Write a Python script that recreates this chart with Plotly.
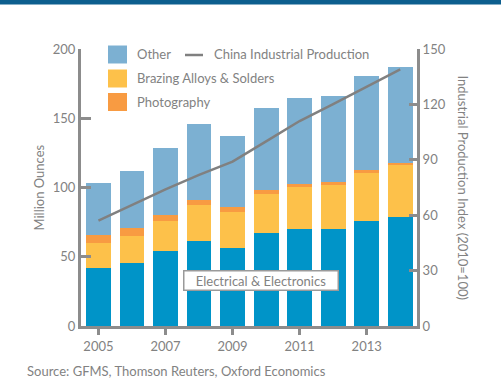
import plotly.graph_objects as go

years = [2005, 2006, 2007, 2008, 2009, 2010, 2011, 2012, 2013, 2014]
electrical = [42.0, 45.7, 54.4, 61.4, 56.5, 67.1, 70.3, 70.3, 76.0, 78.9]
brazing = [18.2, 19.5, 21.6, 26.2, 26.0, 28.2, 30.3, 31.7, 34.7, 37.6]
photography = [5.8, 5.3, 4.1, 3.4, 3.2, 2.9, 1.9, 2.0, 1.9, 1.4]
other = [37.0, 41.4, 48.4, 54.8, 51.5, 59.2, 62.1, 62.0, 67.9, 68.9]
china_ip = [57.0, 65.5, 74.0, 81.8, 89.0, 100.0, 111.0, 120.2, 129.4, 139.0]

left_ticks = [0, 50, 100, 150, 200]
right_ticks = [0, 30, 60, 90, 120, 150]
x_ticks = [2005, 2007, 2009, 2011, 2013]

C_ELEC = "#0094c8"
C_BRAZ = "#fdc14a"
C_PHOTO = "#f89b42"
C_OTHER = "#7cb0d2"
C_LINE = "#808080"
C_AXIS = "#8c8c8c"
C_TEXT = "#828282"
FONT = "Lato"

fig = go.Figure()
for name, vals, col in [("Electrical & Electronics", electrical, C_ELEC),
                        ("Brazing Alloys & Solders", brazing, C_BRAZ),
                        ("Photography", photography, C_PHOTO),
                        ("Other", other, C_OTHER)]:
    fig.add_trace(go.Bar(x=years, y=vals, name=name, marker=dict(color=col, line=dict(width=0)),
                         width=0.74, showlegend=False))

fig.add_trace(go.Scatter(x=years, y=china_ip, name="China Industrial Production", mode="lines",
                         line=dict(color=C_LINE, width=2.5), yaxis="y2", showlegend=False))

W, H = 501, 387
ml, mr, mt, mb = 81, 84, 49, 61
pw, ph = W - ml - mr, H - mt - mb

def px(x):
    return (x - ml) / pw

def py(y):
    return (H - mb - y) / ph

shapes = []
annotations = []
# top banner line
shapes.append(dict(type="rect", xref="paper", yref="paper", x0=px(0), x1=px(W), y0=py(4.5), y1=py(0),
                   fillcolor="#0d5f8e", line=dict(width=0), layer="above"))

# manual legend
legend_items = [("Other", C_OTHER, 54.5), ("Brazing Alloys & Solders", C_BRAZ, 78.5), ("Photography", C_PHOTO, 102)]
for label, col, yc in legend_items:
    shapes.append(dict(type="rect", xref="paper", yref="paper", x0=px(108), x1=px(127),
                       y0=py(yc + 9), y1=py(yc - 9), fillcolor=col, line=dict(width=0), layer="above"))
    annotations.append(dict(text=label, xref="paper", yref="paper", x=px(135), y=py(yc),
                            xanchor="left", yanchor="middle", showarrow=False,
                            font=dict(family=FONT, size=13, color=C_TEXT)))
shapes.append(dict(type="line", xref="paper", yref="paper", x0=px(185), x1=px(203), y0=py(55), y1=py(55),
                   line=dict(color=C_LINE, width=2.5), layer="above"))
annotations.append(dict(text="China Industrial Production", xref="paper", yref="paper", x=px(212), y=py(54.5),
                        xanchor="left", yanchor="middle", showarrow=False,
                        font=dict(family=FONT, size=13, color=C_TEXT)))

# axis titles
annotations.append(dict(text="Million Ounces", xref="paper", yref="paper", x=px(38), y=0.5, textangle=-90,
                        xanchor="center", yanchor="middle", showarrow=False,
                        font=dict(family=FONT, size=13, color=C_TEXT)))
annotations.append(dict(text="Industrial Production Index (2010=100)", xref="paper", yref="paper", x=px(463), y=0.5,
                        textangle=90, xanchor="center", yanchor="middle", showarrow=False,
                        font=dict(family=FONT, size=13, color=C_TEXT)))
# electrical label box
annotations.append(dict(text="Electrical & Electronics", xref="x", yref="y", x=2009.85, y=33.2,
                        xanchor="center", yanchor="middle", showarrow=False, width=150, height=15,
                        bgcolor="white", bordercolor="#9a9a9a", borderwidth=1.5, borderpad=1.5,
                        font=dict(family=FONT, size=13, color=C_TEXT)))
# source
annotations.append(dict(text="Source: GFMS, Thomson Reuters, Oxford Economics", xref="paper", yref="paper",
                        x=px(25), y=py(371), xanchor="left", yanchor="middle", showarrow=False,
                        font=dict(family=FONT, size=13, color=C_TEXT)))

fig.update_layout(
    width=W, height=H, autosize=False,
    margin=dict(l=ml, r=mr, t=mt, b=mb, pad=0),
    paper_bgcolor="white", plot_bgcolor="white",
    barmode="stack", bargap=0.26,
    font=dict(family=FONT, size=13, color=C_TEXT),
    xaxis=dict(range=[2004.48, 2014.5], tickvals=x_ticks, ticktext=[str(v) for v in x_ticks],
               showgrid=False, zeroline=False, showline=True, linecolor=C_AXIS, linewidth=3,
               ticks="outside", ticklen=6, tickwidth=3, tickcolor=C_AXIS,
               tickfont=dict(family=FONT, size=13, color=C_TEXT)),
    yaxis=dict(range=[0, 200], tickvals=left_ticks, showgrid=False, zeroline=False, showline=True,
               linecolor=C_AXIS, linewidth=3, ticks="inside", ticklen=10, tickwidth=3, tickcolor=C_AXIS,
               tickfont=dict(family=FONT, size=13, color=C_TEXT)),
    yaxis2=dict(range=[0, 150], tickvals=right_ticks, overlaying="y", side="right", showgrid=False,
                zeroline=False, showline=True, linecolor=C_AXIS, linewidth=3, ticks="inside", ticklen=8,
                tickwidth=3, tickcolor=C_AXIS, tickfont=dict(family=FONT, size=13, color=C_TEXT)),
    shapes=shapes, annotations=annotations, showlegend=False,
)

fig.write_html("out.html", config={"displayModeBar": False},
               post_script="document.body.style.margin='0';document.body.style.padding='0';")
